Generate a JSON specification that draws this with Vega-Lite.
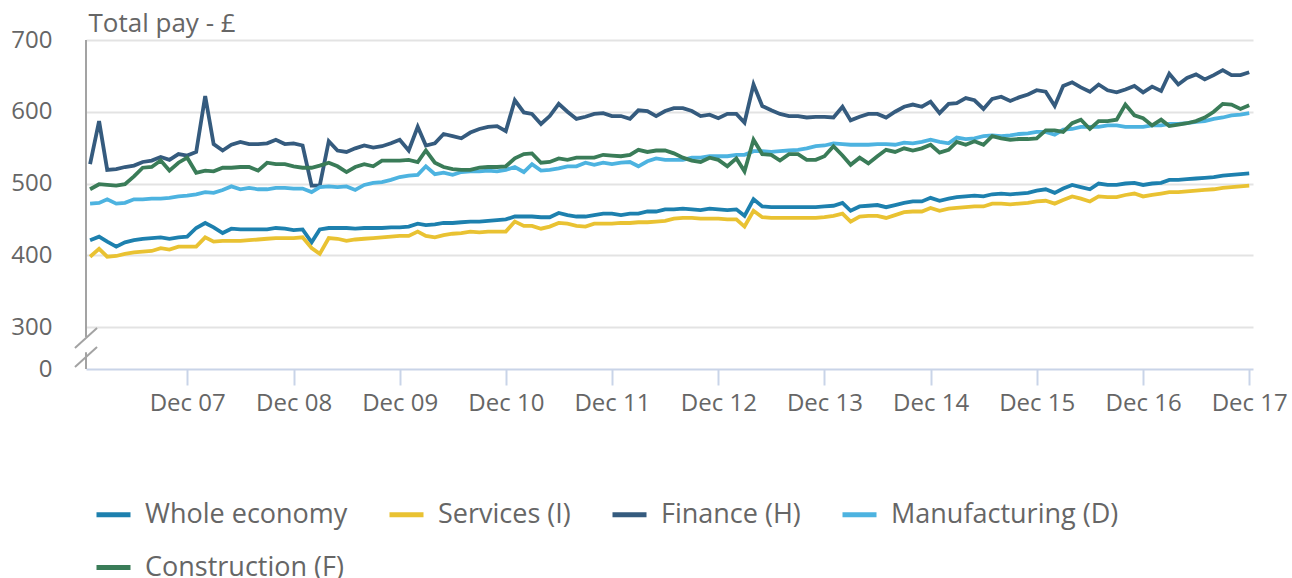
{
"$schema":"https://vega.github.io/schema/vega-lite/v6.json",
"width":1167,"height":329,
"autosize":{"type":"none"},
"padding":{"left":86,"top":40,"right":39,"bottom":209},
"background":"white",
"config":{"font":"Open Sans","view":{"stroke":null},
"axisX":{"labelExpr":"utcFormat(datum.value, '%b %y')","grid":false,"domainColor":"#c9d4e8","domainWidth":2,"tickColor":"#c9d4e8","tickWidth":2,"tickSize":16,"labelPadding":6,"labelFontSize":24,"labelColor":"#666666","labelFont":"Open Sans","labelFlush":false,"labelOverlap":false},
"axisY":{"domain":false,"ticks":false,"labelPadding":34,"labelFontSize":24,"labelColor":"#666666","labelFont":"Open Sans","gridWidth":2,"titleAngle":0,"titleAlign":"left","titleBaseline":"middle","titleX":2,"titleY":-17,"titleFontSize":26,"titleFontWeight":"normal","titleColor":"#666666","titleFont":"Open Sans"}},
"datasets":{
"brk":[{"x":"2006-12-18","x2":"2006-12-18","y":286,"y2":700},{"x":"2006-12-18","x2":"2006-12-18","y":241.5,"y2":265},{"x":"2006-11-10","x2":"2007-01-25","y":270.7,"y2":298.6},{"x":"2006-11-10","x2":"2007-01-25","y":244.3,"y2":272.1}],
"we":[{"d":"2007-01","v":421},{"d":"2007-02","v":426},{"d":"2007-03","v":419},{"d":"2007-04","v":412},{"d":"2007-05","v":418},{"d":"2007-06","v":421},{"d":"2007-07","v":423},{"d":"2007-08","v":424},{"d":"2007-09","v":425},{"d":"2007-10","v":423},{"d":"2007-11","v":425},{"d":"2007-12","v":426},
{"d":"2008-01","v":438},{"d":"2008-02","v":445},{"d":"2008-03","v":439},{"d":"2008-04","v":431},{"d":"2008-05","v":437},{"d":"2008-06","v":436},{"d":"2008-07","v":436},{"d":"2008-08","v":436},{"d":"2008-09","v":436},{"d":"2008-10","v":438},{"d":"2008-11","v":437},{"d":"2008-12","v":435},
{"d":"2009-01","v":436},{"d":"2009-02","v":418},{"d":"2009-03","v":436},{"d":"2009-04","v":438},{"d":"2009-05","v":438},{"d":"2009-06","v":438},{"d":"2009-07","v":437},{"d":"2009-08","v":438},{"d":"2009-09","v":438},{"d":"2009-10","v":438},{"d":"2009-11","v":439},{"d":"2009-12","v":439},
{"d":"2010-01","v":440},{"d":"2010-02","v":444},{"d":"2010-03","v":442},{"d":"2010-04","v":443},{"d":"2010-05","v":445},{"d":"2010-06","v":445},{"d":"2010-07","v":446},{"d":"2010-08","v":447},{"d":"2010-09","v":447},{"d":"2010-10","v":448},{"d":"2010-11","v":449},{"d":"2010-12","v":450},
{"d":"2011-01","v":454},{"d":"2011-02","v":454},{"d":"2011-03","v":454},{"d":"2011-04","v":453},{"d":"2011-05","v":453},{"d":"2011-06","v":459},{"d":"2011-07","v":456},{"d":"2011-08","v":454},{"d":"2011-09","v":454},{"d":"2011-10","v":456},{"d":"2011-11","v":458},{"d":"2011-12","v":458},
{"d":"2012-01","v":456},{"d":"2012-02","v":458},{"d":"2012-03","v":458},{"d":"2012-04","v":461},{"d":"2012-05","v":461},{"d":"2012-06","v":464},{"d":"2012-07","v":464},{"d":"2012-08","v":465},{"d":"2012-09","v":464},{"d":"2012-10","v":463},{"d":"2012-11","v":465},{"d":"2012-12","v":464},
{"d":"2013-01","v":463},{"d":"2013-02","v":464},{"d":"2013-03","v":455},{"d":"2013-04","v":478},{"d":"2013-05","v":468},{"d":"2013-06","v":467},{"d":"2013-07","v":467},{"d":"2013-08","v":467},{"d":"2013-09","v":467},{"d":"2013-10","v":467},{"d":"2013-11","v":467},{"d":"2013-12","v":468},
{"d":"2014-01","v":469},{"d":"2014-02","v":473},{"d":"2014-03","v":462},{"d":"2014-04","v":468},{"d":"2014-05","v":469},{"d":"2014-06","v":470},{"d":"2014-07","v":467},{"d":"2014-08","v":470},{"d":"2014-09","v":473},{"d":"2014-10","v":475},{"d":"2014-11","v":475},{"d":"2014-12","v":480},
{"d":"2015-01","v":476},{"d":"2015-02","v":479},{"d":"2015-03","v":481},{"d":"2015-04","v":482},{"d":"2015-05","v":483},{"d":"2015-06","v":482},{"d":"2015-07","v":485},{"d":"2015-08","v":486},{"d":"2015-09","v":485},{"d":"2015-10","v":486},{"d":"2015-11","v":487},{"d":"2015-12","v":490},
{"d":"2016-01","v":492},{"d":"2016-02","v":487},{"d":"2016-03","v":493},{"d":"2016-04","v":498},{"d":"2016-05","v":495},{"d":"2016-06","v":492},{"d":"2016-07","v":500},{"d":"2016-08","v":498},{"d":"2016-09","v":498},{"d":"2016-10","v":500},{"d":"2016-11","v":501},{"d":"2016-12","v":498},
{"d":"2017-01","v":500},{"d":"2017-02","v":501},{"d":"2017-03","v":505},{"d":"2017-04","v":505},{"d":"2017-05","v":506},{"d":"2017-06","v":507},{"d":"2017-07","v":508},{"d":"2017-08","v":509},{"d":"2017-09","v":511},{"d":"2017-10","v":512},{"d":"2017-11","v":513},{"d":"2017-12","v":514}],
"sv":[{"d":"2007-01","v":398},{"d":"2007-02","v":409},{"d":"2007-03","v":398},{"d":"2007-04","v":399},{"d":"2007-05","v":402},{"d":"2007-06","v":404},{"d":"2007-07","v":405},{"d":"2007-08","v":406},{"d":"2007-09","v":410},{"d":"2007-10","v":408},{"d":"2007-11","v":412},{"d":"2007-12","v":412},
{"d":"2008-01","v":412},{"d":"2008-02","v":425},{"d":"2008-03","v":419},{"d":"2008-04","v":420},{"d":"2008-05","v":420},{"d":"2008-06","v":420},{"d":"2008-07","v":421},{"d":"2008-08","v":422},{"d":"2008-09","v":423},{"d":"2008-10","v":424},{"d":"2008-11","v":424},{"d":"2008-12","v":424},
{"d":"2009-01","v":425},{"d":"2009-02","v":410},{"d":"2009-03","v":402},{"d":"2009-04","v":424},{"d":"2009-05","v":423},{"d":"2009-06","v":420},{"d":"2009-07","v":422},{"d":"2009-08","v":423},{"d":"2009-09","v":424},{"d":"2009-10","v":425},{"d":"2009-11","v":426},{"d":"2009-12","v":427},
{"d":"2010-01","v":427},{"d":"2010-02","v":433},{"d":"2010-03","v":427},{"d":"2010-04","v":425},{"d":"2010-05","v":428},{"d":"2010-06","v":430},{"d":"2010-07","v":431},{"d":"2010-08","v":433},{"d":"2010-09","v":432},{"d":"2010-10","v":433},{"d":"2010-11","v":433},{"d":"2010-12","v":433},
{"d":"2011-01","v":447},{"d":"2011-02","v":441},{"d":"2011-03","v":441},{"d":"2011-04","v":437},{"d":"2011-05","v":440},{"d":"2011-06","v":445},{"d":"2011-07","v":444},{"d":"2011-08","v":441},{"d":"2011-09","v":440},{"d":"2011-10","v":444},{"d":"2011-11","v":444},{"d":"2011-12","v":444},
{"d":"2012-01","v":445},{"d":"2012-02","v":445},{"d":"2012-03","v":446},{"d":"2012-04","v":446},{"d":"2012-05","v":447},{"d":"2012-06","v":448},{"d":"2012-07","v":451},{"d":"2012-08","v":452},{"d":"2012-09","v":452},{"d":"2012-10","v":451},{"d":"2012-11","v":451},{"d":"2012-12","v":451},
{"d":"2013-01","v":450},{"d":"2013-02","v":450},{"d":"2013-03","v":440},{"d":"2013-04","v":462},{"d":"2013-05","v":453},{"d":"2013-06","v":452},{"d":"2013-07","v":452},{"d":"2013-08","v":452},{"d":"2013-09","v":452},{"d":"2013-10","v":452},{"d":"2013-11","v":452},{"d":"2013-12","v":453},
{"d":"2014-01","v":455},{"d":"2014-02","v":458},{"d":"2014-03","v":447},{"d":"2014-04","v":454},{"d":"2014-05","v":455},{"d":"2014-06","v":455},{"d":"2014-07","v":452},{"d":"2014-08","v":456},{"d":"2014-09","v":460},{"d":"2014-10","v":461},{"d":"2014-11","v":461},{"d":"2014-12","v":466},
{"d":"2015-01","v":462},{"d":"2015-02","v":465},{"d":"2015-03","v":466},{"d":"2015-04","v":467},{"d":"2015-05","v":468},{"d":"2015-06","v":468},{"d":"2015-07","v":472},{"d":"2015-08","v":472},{"d":"2015-09","v":471},{"d":"2015-10","v":472},{"d":"2015-11","v":473},{"d":"2015-12","v":475},
{"d":"2016-01","v":476},{"d":"2016-02","v":472},{"d":"2016-03","v":477},{"d":"2016-04","v":482},{"d":"2016-05","v":479},{"d":"2016-06","v":475},{"d":"2016-07","v":482},{"d":"2016-08","v":481},{"d":"2016-09","v":481},{"d":"2016-10","v":484},{"d":"2016-11","v":486},{"d":"2016-12","v":482},
{"d":"2017-01","v":484},{"d":"2017-02","v":486},{"d":"2017-03","v":488},{"d":"2017-04","v":488},{"d":"2017-05","v":489},{"d":"2017-06","v":490},{"d":"2017-07","v":491},{"d":"2017-08","v":492},{"d":"2017-09","v":494},{"d":"2017-10","v":495},{"d":"2017-11","v":496},{"d":"2017-12","v":497}],
"fi":[{"d":"2007-01","v":527},{"d":"2007-02","v":587},{"d":"2007-03","v":519},{"d":"2007-04","v":520},{"d":"2007-05","v":523},{"d":"2007-06","v":525},{"d":"2007-07","v":530},{"d":"2007-08","v":532},{"d":"2007-09","v":537},{"d":"2007-10","v":533},{"d":"2007-11","v":541},{"d":"2007-12","v":539},
{"d":"2008-01","v":544},{"d":"2008-02","v":622},{"d":"2008-03","v":555},{"d":"2008-04","v":546},{"d":"2008-05","v":554},{"d":"2008-06","v":558},{"d":"2008-07","v":555},{"d":"2008-08","v":555},{"d":"2008-09","v":556},{"d":"2008-10","v":561},{"d":"2008-11","v":555},{"d":"2008-12","v":556},
{"d":"2009-01","v":553},{"d":"2009-02","v":497},{"d":"2009-03","v":497},{"d":"2009-04","v":559},{"d":"2009-05","v":546},{"d":"2009-06","v":544},{"d":"2009-07","v":549},{"d":"2009-08","v":553},{"d":"2009-09","v":550},{"d":"2009-10","v":552},{"d":"2009-11","v":556},{"d":"2009-12","v":561},
{"d":"2010-01","v":546},{"d":"2010-02","v":579},{"d":"2010-03","v":553},{"d":"2010-04","v":556},{"d":"2010-05","v":569},{"d":"2010-06","v":566},{"d":"2010-07","v":563},{"d":"2010-08","v":571},{"d":"2010-09","v":576},{"d":"2010-10","v":579},{"d":"2010-11","v":580},{"d":"2010-12","v":573},
{"d":"2011-01","v":616},{"d":"2011-02","v":599},{"d":"2011-03","v":597},{"d":"2011-04","v":583},{"d":"2011-05","v":594},{"d":"2011-06","v":611},{"d":"2011-07","v":600},{"d":"2011-08","v":590},{"d":"2011-09","v":593},{"d":"2011-10","v":597},{"d":"2011-11","v":598},{"d":"2011-12","v":594},
{"d":"2012-01","v":594},{"d":"2012-02","v":590},{"d":"2012-03","v":602},{"d":"2012-04","v":601},{"d":"2012-05","v":594},{"d":"2012-06","v":601},{"d":"2012-07","v":605},{"d":"2012-08","v":605},{"d":"2012-09","v":601},{"d":"2012-10","v":594},{"d":"2012-11","v":596},{"d":"2012-12","v":591},
{"d":"2013-01","v":597},{"d":"2013-02","v":597},{"d":"2013-03","v":585},{"d":"2013-04","v":638},{"d":"2013-05","v":608},{"d":"2013-06","v":602},{"d":"2013-07","v":597},{"d":"2013-08","v":594},{"d":"2013-09","v":594},{"d":"2013-10","v":592},{"d":"2013-11","v":593},{"d":"2013-12","v":593},
{"d":"2014-01","v":592},{"d":"2014-02","v":607},{"d":"2014-03","v":588},{"d":"2014-04","v":593},{"d":"2014-05","v":597},{"d":"2014-06","v":597},{"d":"2014-07","v":592},{"d":"2014-08","v":600},{"d":"2014-09","v":607},{"d":"2014-10","v":610},{"d":"2014-11","v":607},{"d":"2014-12","v":614},
{"d":"2015-01","v":598},{"d":"2015-02","v":611},{"d":"2015-03","v":612},{"d":"2015-04","v":619},{"d":"2015-05","v":616},{"d":"2015-06","v":604},{"d":"2015-07","v":618},{"d":"2015-08","v":621},{"d":"2015-09","v":615},{"d":"2015-10","v":620},{"d":"2015-11","v":624},{"d":"2015-12","v":630},
{"d":"2016-01","v":628},{"d":"2016-02","v":608},{"d":"2016-03","v":636},{"d":"2016-04","v":641},{"d":"2016-05","v":634},{"d":"2016-06","v":628},{"d":"2016-07","v":638},{"d":"2016-08","v":630},{"d":"2016-09","v":627},{"d":"2016-10","v":631},{"d":"2016-11","v":636},{"d":"2016-12","v":627},
{"d":"2017-01","v":635},{"d":"2017-02","v":629},{"d":"2017-03","v":653},{"d":"2017-04","v":638},{"d":"2017-05","v":647},{"d":"2017-06","v":652},{"d":"2017-07","v":645},{"d":"2017-08","v":651},{"d":"2017-09","v":658},{"d":"2017-10","v":651},{"d":"2017-11","v":651},{"d":"2017-12","v":655}],
"mf":[{"d":"2007-01","v":472},{"d":"2007-02","v":473},{"d":"2007-03","v":478},{"d":"2007-04","v":472},{"d":"2007-05","v":473},{"d":"2007-06","v":478},{"d":"2007-07","v":478},{"d":"2007-08","v":479},{"d":"2007-09","v":479},{"d":"2007-10","v":480},{"d":"2007-11","v":482},{"d":"2007-12","v":483},
{"d":"2008-01","v":485},{"d":"2008-02","v":488},{"d":"2008-03","v":487},{"d":"2008-04","v":491},{"d":"2008-05","v":496},{"d":"2008-06","v":492},{"d":"2008-07","v":494},{"d":"2008-08","v":492},{"d":"2008-09","v":492},{"d":"2008-10","v":494},{"d":"2008-11","v":494},{"d":"2008-12","v":493},
{"d":"2009-01","v":493},{"d":"2009-02","v":488},{"d":"2009-03","v":495},{"d":"2009-04","v":496},{"d":"2009-05","v":495},{"d":"2009-06","v":496},{"d":"2009-07","v":491},{"d":"2009-08","v":498},{"d":"2009-09","v":501},{"d":"2009-10","v":502},{"d":"2009-11","v":505},{"d":"2009-12","v":509},
{"d":"2010-01","v":511},{"d":"2010-02","v":512},{"d":"2010-03","v":524},{"d":"2010-04","v":513},{"d":"2010-05","v":515},{"d":"2010-06","v":512},{"d":"2010-07","v":516},{"d":"2010-08","v":517},{"d":"2010-09","v":517},{"d":"2010-10","v":518},{"d":"2010-11","v":517},{"d":"2010-12","v":519},
{"d":"2011-01","v":523},{"d":"2011-02","v":516},{"d":"2011-03","v":527},{"d":"2011-04","v":518},{"d":"2011-05","v":519},{"d":"2011-06","v":521},{"d":"2011-07","v":524},{"d":"2011-08","v":524},{"d":"2011-09","v":529},{"d":"2011-10","v":526},{"d":"2011-11","v":529},{"d":"2011-12","v":527},
{"d":"2012-01","v":529},{"d":"2012-02","v":530},{"d":"2012-03","v":524},{"d":"2012-04","v":531},{"d":"2012-05","v":535},{"d":"2012-06","v":533},{"d":"2012-07","v":533},{"d":"2012-08","v":533},{"d":"2012-09","v":536},{"d":"2012-10","v":536},{"d":"2012-11","v":538},{"d":"2012-12","v":538},
{"d":"2013-01","v":538},{"d":"2013-02","v":540},{"d":"2013-03","v":540},{"d":"2013-04","v":545},{"d":"2013-05","v":545},{"d":"2013-06","v":544},{"d":"2013-07","v":545},{"d":"2013-08","v":546},{"d":"2013-09","v":547},{"d":"2013-10","v":549},{"d":"2013-11","v":552},{"d":"2013-12","v":553},
{"d":"2014-01","v":556},{"d":"2014-02","v":555},{"d":"2014-03","v":554},{"d":"2014-04","v":554},{"d":"2014-05","v":554},{"d":"2014-06","v":555},{"d":"2014-07","v":555},{"d":"2014-08","v":554},{"d":"2014-09","v":557},{"d":"2014-10","v":556},{"d":"2014-11","v":558},{"d":"2014-12","v":561},
{"d":"2015-01","v":558},{"d":"2015-02","v":556},{"d":"2015-03","v":564},{"d":"2015-04","v":562},{"d":"2015-05","v":563},{"d":"2015-06","v":566},{"d":"2015-07","v":567},{"d":"2015-08","v":566},{"d":"2015-09","v":567},{"d":"2015-10","v":569},{"d":"2015-11","v":570},{"d":"2015-12","v":572},
{"d":"2016-01","v":572},{"d":"2016-02","v":568},{"d":"2016-03","v":575},{"d":"2016-04","v":576},{"d":"2016-05","v":579},{"d":"2016-06","v":579},{"d":"2016-07","v":579},{"d":"2016-08","v":581},{"d":"2016-09","v":581},{"d":"2016-10","v":579},{"d":"2016-11","v":579},{"d":"2016-12","v":579},
{"d":"2017-01","v":581},{"d":"2017-02","v":581},{"d":"2017-03","v":583},{"d":"2017-04","v":583},{"d":"2017-05","v":584},{"d":"2017-06","v":586},{"d":"2017-07","v":587},{"d":"2017-08","v":590},{"d":"2017-09","v":592},{"d":"2017-10","v":595},{"d":"2017-11","v":596},{"d":"2017-12","v":598}],
"cn":[{"d":"2007-01","v":492},{"d":"2007-02","v":499},{"d":"2007-03","v":498},{"d":"2007-04","v":497},{"d":"2007-05","v":499},{"d":"2007-06","v":510},{"d":"2007-07","v":522},{"d":"2007-08","v":523},{"d":"2007-09","v":532},{"d":"2007-10","v":518},{"d":"2007-11","v":529},{"d":"2007-12","v":536},
{"d":"2008-01","v":515},{"d":"2008-02","v":518},{"d":"2008-03","v":517},{"d":"2008-04","v":522},{"d":"2008-05","v":522},{"d":"2008-06","v":523},{"d":"2008-07","v":523},{"d":"2008-08","v":518},{"d":"2008-09","v":529},{"d":"2008-10","v":527},{"d":"2008-11","v":527},{"d":"2008-12","v":524},
{"d":"2009-01","v":522},{"d":"2009-02","v":522},{"d":"2009-03","v":525},{"d":"2009-04","v":529},{"d":"2009-05","v":524},{"d":"2009-06","v":516},{"d":"2009-07","v":523},{"d":"2009-08","v":527},{"d":"2009-09","v":524},{"d":"2009-10","v":532},{"d":"2009-11","v":532},{"d":"2009-12","v":532},
{"d":"2010-01","v":533},{"d":"2010-02","v":530},{"d":"2010-03","v":546},{"d":"2010-04","v":529},{"d":"2010-05","v":523},{"d":"2010-06","v":520},{"d":"2010-07","v":519},{"d":"2010-08","v":519},{"d":"2010-09","v":522},{"d":"2010-10","v":523},{"d":"2010-11","v":523},{"d":"2010-12","v":524},
{"d":"2011-01","v":535},{"d":"2011-02","v":541},{"d":"2011-03","v":542},{"d":"2011-04","v":529},{"d":"2011-05","v":530},{"d":"2011-06","v":535},{"d":"2011-07","v":533},{"d":"2011-08","v":536},{"d":"2011-09","v":536},{"d":"2011-10","v":536},{"d":"2011-11","v":540},{"d":"2011-12","v":539},
{"d":"2012-01","v":538},{"d":"2012-02","v":540},{"d":"2012-03","v":547},{"d":"2012-04","v":544},{"d":"2012-05","v":546},{"d":"2012-06","v":546},{"d":"2012-07","v":542},{"d":"2012-08","v":536},{"d":"2012-09","v":532},{"d":"2012-10","v":530},{"d":"2012-11","v":536},{"d":"2012-12","v":533},
{"d":"2013-01","v":524},{"d":"2013-02","v":535},{"d":"2013-03","v":517},{"d":"2013-04","v":561},{"d":"2013-05","v":541},{"d":"2013-06","v":540},{"d":"2013-07","v":532},{"d":"2013-08","v":541},{"d":"2013-09","v":541},{"d":"2013-10","v":533},{"d":"2013-11","v":533},{"d":"2013-12","v":538},
{"d":"2014-01","v":552},{"d":"2014-02","v":539},{"d":"2014-03","v":526},{"d":"2014-04","v":536},{"d":"2014-05","v":528},{"d":"2014-06","v":538},{"d":"2014-07","v":547},{"d":"2014-08","v":544},{"d":"2014-09","v":549},{"d":"2014-10","v":546},{"d":"2014-11","v":549},{"d":"2014-12","v":554},
{"d":"2015-01","v":543},{"d":"2015-02","v":547},{"d":"2015-03","v":558},{"d":"2015-04","v":554},{"d":"2015-05","v":559},{"d":"2015-06","v":554},{"d":"2015-07","v":566},{"d":"2015-08","v":563},{"d":"2015-09","v":561},{"d":"2015-10","v":562},{"d":"2015-11","v":562},{"d":"2015-12","v":563},
{"d":"2016-01","v":574},{"d":"2016-02","v":574},{"d":"2016-03","v":572},{"d":"2016-04","v":584},{"d":"2016-05","v":589},{"d":"2016-06","v":576},{"d":"2016-07","v":587},{"d":"2016-08","v":587},{"d":"2016-09","v":589},{"d":"2016-10","v":610},{"d":"2016-11","v":595},{"d":"2016-12","v":591},
{"d":"2017-01","v":581},{"d":"2017-02","v":589},{"d":"2017-03","v":580},{"d":"2017-04","v":582},{"d":"2017-05","v":584},{"d":"2017-06","v":587},{"d":"2017-07","v":592},{"d":"2017-08","v":600},{"d":"2017-09","v":611},{"d":"2017-10","v":610},{"d":"2017-11","v":604},{"d":"2017-12","v":609}]
},
"encoding":{
"x":{"field":"d","type":"temporal","title":null,"scale":{"type":"utc","domain":[{"year":2006,"month":12,"date":18,"utc":true},{"year":2017,"month":12,"date":14,"utc":true}]},
"axis":{"values":[{"year":2007,"month":12,"date":1,"utc":true},{"year":2008,"month":12,"date":1,"utc":true},{"year":2009,"month":12,"date":1,"utc":true},{"year":2010,"month":12,"date":1,"utc":true},{"year":2011,"month":12,"date":1,"utc":true},{"year":2012,"month":12,"date":1,"utc":true},{"year":2013,"month":12,"date":1,"utc":true},{"year":2014,"month":12,"date":1,"utc":true},{"year":2015,"month":12,"date":1,"utc":true},{"year":2016,"month":12,"date":1,"utc":true},{"year":2017,"month":12,"date":1,"utc":true}],
"labelExpr":"utcFormat(datum.value, '%b %y')"}},
"y":{"field":"v","type":"quantitative","title":"Total pay - £","scale":{"domain":[241.5,700],"nice":false,"zero":false},
"axis":{"values":[241.5,300,400,500,600,700],"labelExpr":"datum.value < 250 ? '0' : format(datum.value, 'd')",
"gridColor":{"condition":{"test":"datum.value < 250","value":"rgba(0,0,0,0)"},"value":"#e3e3e3"}}}
},
"layer":[
{"data":{"name":"we"},"mark":{"type":"line","strokeWidth":3.8},"encoding":{"color":{"datum":"Whole economy","type":"nominal","scale":{"domain":["Whole economy","Services (I)","Finance (H)","Manufacturing (D)","Construction (F)"],"range":["#1d80ae","#e9c232","#355b7e","#4db3e0","#3a7c58"]},
"legend":{"orient":"none","legendX":8,"legendY":455,"direction":"horizontal","columns":4,"symbolType":"stroke","symbolSize":1156,"symbolStrokeWidth":5,"labelFontSize":27,"labelColor":"#666666","labelFont":"Open Sans","columnPadding":31,"rowPadding":20,"labelOffset":12,"title":null,"padding":0,"labelLimit":400}}}},
{"data":{"name":"sv"},"mark":{"type":"line","strokeWidth":3.8},"encoding":{"color":{"datum":"Services (I)","type":"nominal"}}},
{"data":{"name":"fi"},"mark":{"type":"line","strokeWidth":3.8},"encoding":{"color":{"datum":"Finance (H)","type":"nominal"}}},
{"data":{"name":"mf"},"mark":{"type":"line","strokeWidth":3.8},"encoding":{"color":{"datum":"Manufacturing (D)","type":"nominal"}}},
{"data":{"name":"cn"},"mark":{"type":"line","strokeWidth":3.8},"encoding":{"color":{"datum":"Construction (F)","type":"nominal"}}},
{"data":{"name":"brk"},"mark":{"type":"rule","color":"#a3a3a3","strokeWidth":2,"clip":false},"encoding":{"x":{"field":"x","type":"temporal","title":null},"x2":{"field":"x2"},"y":{"field":"y","type":"quantitative","title":"Total pay - £"},"y2":{"field":"y2"}}}
]
}
